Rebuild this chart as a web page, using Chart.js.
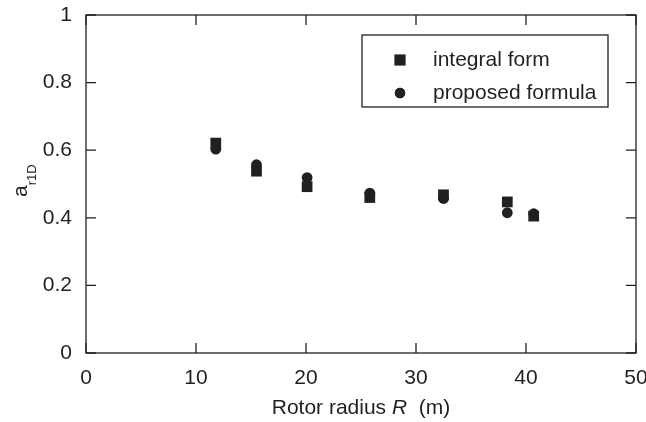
<!DOCTYPE html>
<html>
<head>
<meta charset="utf-8">
<script src="https://cdn.jsdelivr.net/npm/chart.js@4"></script>
<style>
  html, body { margin: 0; padding: 0; background: #fff; }
  #wrap { width: 646px; height: 422px; }
</style>
</head>
<body>
<div id="wrap"><canvas id="chart" width="646" height="422"></canvas></div>
<script>
// rotor radius R (m)
const radius = [11.8, 15.5, 20.1, 25.8, 32.5, 38.3, 40.7];
// a_r1D values
const integralForm = [0.621, 0.538, 0.492, 0.460, 0.468, 0.447, 0.405];
const proposedFormula = [0.603, 0.557, 0.519, 0.473, 0.457, 0.415, 0.412];
const xTicks = [0, 10, 20, 30, 40, 50];
const yTicks = [0, 0.2, 0.4, 0.6, 0.8, 1];
const seriesNames = ["integral form", "proposed formula"];

const ink = "#231f20";
const family = "'Liberation Sans', Arial, sans-serif";
const font = "21px " + family;

function toPoints(xs, ys) {
    return xs.map((x, i) => ({ x: x, y: ys[i] }));
}

// frame, inward ticks, axis titles and boxed legend
const framePlugin = {
    id: "frame",
    afterDraw(chart) {
        const ctx = chart.ctx;
        const a = chart.chartArea;
        const xs = chart.scales.x, ys = chart.scales.y;
        ctx.save();
        ctx.strokeStyle = ink;
        ctx.lineWidth = 1.3;
        ctx.strokeRect(a.left, a.top, a.right - a.left, a.bottom - a.top);

        const len = 10;
        ctx.beginPath();
        xTicks.forEach(v => {
            const px = xs.getPixelForValue(v);
            ctx.moveTo(px, a.bottom); ctx.lineTo(px, a.bottom - len);
            ctx.moveTo(px, a.top); ctx.lineTo(px, a.top + len);
        });
        yTicks.forEach(v => {
            const py = ys.getPixelForValue(v);
            ctx.moveTo(a.left, py); ctx.lineTo(a.left + len, py);
            ctx.moveTo(a.right, py); ctx.lineTo(a.right - len, py);
        });
        ctx.stroke();

        ctx.fillStyle = ink;
        // x title with italic R
        const parts = [["Rotor radius ", font], ["R", "italic " + font], ["  (m)", font]];
        let total = 0;
        parts.forEach(p => { ctx.font = p[1]; total += ctx.measureText(p[0]).width; });
        let tx = (a.left + a.right) / 2 - total / 2;
        ctx.textBaseline = "middle";
        ctx.textAlign = "left";
        parts.forEach(p => {
            ctx.font = p[1];
            ctx.fillText(p[0], tx, 408);
            tx += ctx.measureText(p[0]).width;
        });

        // y title a_r1D
        ctx.save();
        ctx.translate(27, 197);
        ctx.rotate(-Math.PI / 2);
        ctx.textBaseline = "alphabetic";
        ctx.font = font;
        ctx.fillText("a", 0, 0);
        const aw = ctx.measureText("a").width;
        ctx.font = "13px " + family;
        ctx.fillText("r1D", aw, 9);
        ctx.restore();

        // legend box
        const lx = 362, ly = 35, lw = 246, lh = 72;
        ctx.lineWidth = 1.3;
        ctx.strokeRect(lx, ly, lw, lh);
        ctx.font = font;
        ctx.textBaseline = "middle";
        chart.data.datasets.forEach((ds, i) => {
            const cy = ly + 25 + i * 33;
            Chart.helpers.drawPoint(ctx, {
                pointStyle: ds.pointStyle,
                radius: ds.pointStyle === "rect" ? 7.6 : 5.2,
                borderWidth: 0
            }, 400, cy);
            ctx.fillStyle = ink;
            ctx.fill();
            ctx.fillText(seriesNames[i], 433, cy);
        });
        ctx.restore();
    }
};

new Chart(document.getElementById("chart"), {
    type: "scatter",
    data: {
        datasets: [
            {
                label: seriesNames[0],
                data: toPoints(radius, integralForm),
                pointStyle: "rect",
                pointRadius: 7.6,
                backgroundColor: ink,
                borderColor: ink,
                borderWidth: 0
            },
            {
                label: seriesNames[1],
                data: toPoints(radius, proposedFormula),
                pointStyle: "circle",
                pointRadius: 5.4,
                backgroundColor: ink,
                borderColor: ink,
                borderWidth: 0
            }
        ]
    },
    plugins: [framePlugin],
    options: {
        responsive: false,
        animation: false,
        layout: { padding: { left: 0, right: 10, top: 15, bottom: 0 } },
        plugins: {
            legend: { display: false },
            tooltip: { enabled: false }
        },
        scales: {
            x: {
                type: "linear",
                min: 0,
                max: 50,
                afterBuildTicks: s => { s.ticks = xTicks.map(v => ({ value: v })); },
                afterFit: s => { s.height = 69; s.paddingLeft = 0; s.paddingRight = 0; },
                grid: { display: false, drawTicks: false },
                border: { display: false },
                ticks: { color: ink, font: { family: family, size: 21 }, padding: 13, maxRotation: 0 }
            },
            y: {
                type: "linear",
                min: 0,
                max: 1,
                afterBuildTicks: s => { s.ticks = yTicks.map(v => ({ value: v })); },
                afterFit: s => { s.width = 86; s.paddingTop = 0; s.paddingBottom = 0; },
                grid: { display: false, drawTicks: false },
                border: { display: false },
                ticks: { color: ink, font: { family: family, size: 21 }, padding: 14, callback: v => String(v) }
            }
        }
    }
});
</script>
</body>
</html>
